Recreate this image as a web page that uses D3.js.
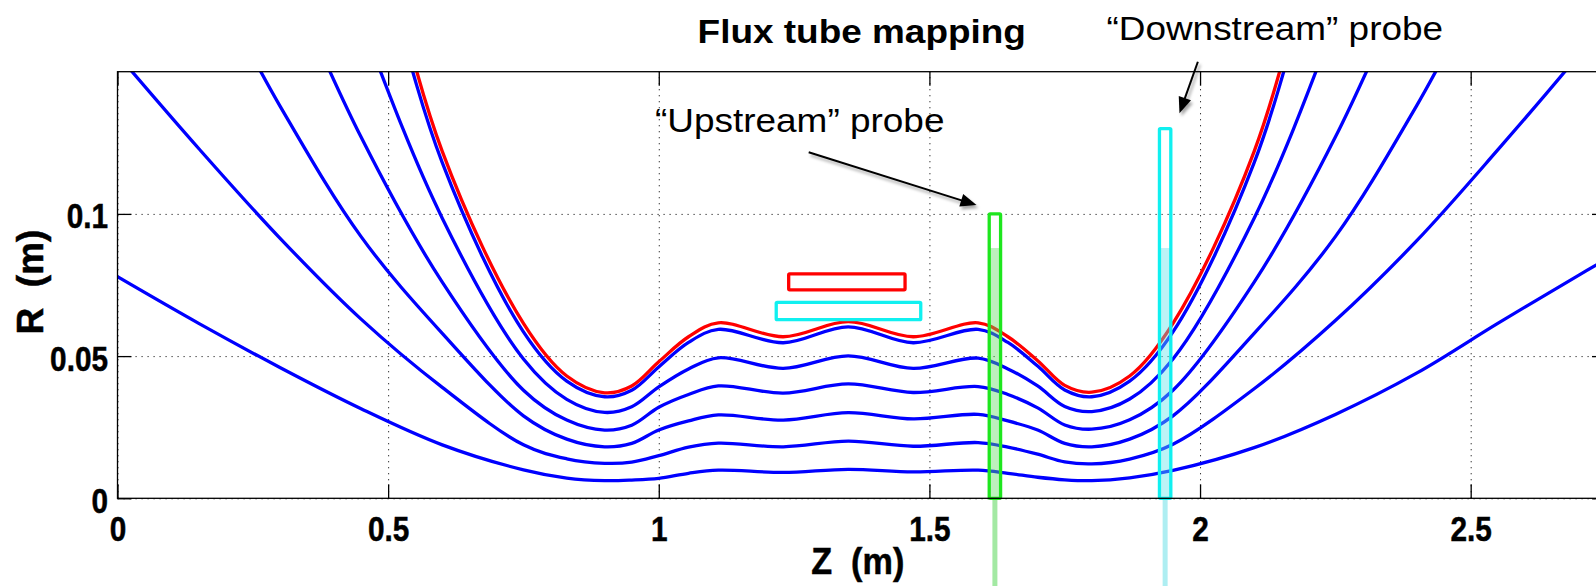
<!DOCTYPE html>
<html>
<head>
<meta charset="utf-8">
<script src="https://cdnjs.cloudflare.com/ajax/libs/d3/7.8.5/d3.min.js"></script>
<style>
  body { margin: 0; background: #fff; overflow: hidden; }
  svg { display: block; }
  text { font-family: "Liberation Sans", Arial, Helvetica, sans-serif; }
</style>
</head>
<body>
<script>
var zPoints = [0, 0.15, 0.3, 0.45, 0.6, 0.75, 0.83, 0.9, 0.95, 1.0, 1.055, 1.11, 1.23, 1.35,
               1.47, 1.59, 1.645, 1.7, 1.75, 1.8, 1.87, 1.95, 2.1, 2.25, 2.4, 2.55, 2.7, 2.75];

// R (m) of each blue field line, innermost first (values above 0.15 leave the box)
var line1R = [0.0779, 0.0615, 0.0460, 0.0315, 0.0188, 0.0100, 0.0071, 0.0062, 0.0064, 0.0070, 0.0088, 0.0099, 0.0091, 0.0102,
              0.0093, 0.0099, 0.0088, 0.0074, 0.0065, 0.0062, 0.0072, 0.0098, 0.0178, 0.0295, 0.0440, 0.0615, 0.0785, 0.0840];
var line2R = [0.156, 0.123, 0.0915, 0.0630, 0.0390, 0.0188, 0.0139, 0.0123, 0.0127, 0.0150, 0.0180, 0.0194, 0.0181, 0.0201,
              0.0183, 0.0196, 0.0180, 0.0155, 0.0128, 0.0121, 0.0138, 0.0190, 0.0385, 0.0625, 0.0905, 0.1225, 0.156, 0.168];
var line3R = [0.234, 0.190, 0.138, 0.092, 0.058, 0.0290, 0.0208, 0.0181, 0.0193, 0.0240, 0.0272, 0.0293, 0.0275, 0.0301,
              0.0279, 0.0295, 0.0272, 0.0240, 0.0193, 0.0181, 0.0208, 0.0290, 0.058, 0.092, 0.138, 0.190, 0.234, 0.250];
var line4R = [0.31, 0.26, 0.19, 0.127, 0.076, 0.038, 0.0275, 0.0240, 0.0257, 0.0320, 0.0365, 0.0395, 0.0370, 0.0402,
              0.0372, 0.0393, 0.0365, 0.0318, 0.0258, 0.0243, 0.0276, 0.038, 0.076, 0.127, 0.19, 0.26, 0.31, 0.33];
var line5R = [0.39, 0.33, 0.25, 0.168, 0.0985, 0.0490, 0.0348, 0.0302, 0.0322, 0.0392, 0.0455, 0.0494, 0.0457, 0.0501,
              0.0457, 0.0493, 0.0455, 0.0395, 0.0323, 0.0305, 0.0349, 0.0490, 0.0985, 0.168, 0.25, 0.33, 0.39, 0.41];
var line6R = [0.47, 0.39, 0.30, 0.215, 0.118, 0.0585, 0.0412, 0.0357, 0.0380, 0.0462, 0.0548, 0.0594, 0.0547, 0.0603,
              0.0547, 0.0594, 0.0548, 0.0465, 0.0381, 0.0357, 0.0412, 0.0585, 0.118, 0.215, 0.30, 0.39, 0.47, 0.49];
// the red (limiting) field line
var redLineR = [0.48, 0.40, 0.31, 0.223, 0.122, 0.0615, 0.0430, 0.0371, 0.0395, 0.0480, 0.0568, 0.0617, 0.0568, 0.0621,
                0.0568, 0.0617, 0.0568, 0.0484, 0.0397, 0.0373, 0.0430, 0.0615, 0.122, 0.223, 0.31, 0.40, 0.48, 0.50];

// outlines drawn on top: [zMin, zMax] and [rMin, rMax]
var redBoxZ = [1.240, 1.455], redBoxR = [0.0733, 0.0789];
var cyanBoxZ = [1.217, 1.484], cyanBoxR = [0.0628, 0.0689];
var upProbeZ = [1.6105, 1.6315], upProbeR = [0, 0.100];
var downProbeZ = [1.925, 1.946], downProbeR = [0, 0.130];
var probeFillTop = 0.088;     // R where the shaded part of each probe begins
var probeShaftEnd = -0.04;    // shaft keeps going below the axis

// annotations: [Z, R] in data units
var upText = [0.993, 0.1289], upArrow = [[1.277, 0.1217], [1.587, 0.1031]];
var downText = [1.827, 0.1611], downArrow = [[1.996, 0.1535], [1.962, 0.1354]];

// ticks
var xTicks = [0, 0.5, 1, 1.5, 2, 2.5];
var xTickLabels = ["0", "0.5", "1", "1.5", "2", "2.5"];
var yTicks = [0, 0.05, 0.1];
var yTickLabels = ["0", "0.05", "0.1"];

var W = 1596, H = 586;
var wide = 1.12;      // title and notes are a bit wider than the font
var narrow = 0.85;    // tick labels are tall and narrow

var x = d3.scaleLinear().domain([0, 2.75]).range([117.5, 1606]);
var y = d3.scaleLinear().domain([0, 0.15]).range([498.3, 71.7]);
var plotW = x.range()[1] - x.range()[0];
var plotH = y.range()[0] - y.range()[1];

var svg = d3.select("body").append("svg")
    .attr("width", W)
    .attr("height", H);

var defs = svg.append("defs");
defs.append("clipPath").attr("id", "plotClip")
  .append("rect")
    .attr("x", x.range()[0]).attr("y", y.range()[1])
    .attr("width", plotW).attr("height", plotH);
defs.append("filter").attr("id", "shadow")
    .attr("x", "-30%").attr("y", "-30%").attr("width", "160%").attr("height", "160%")
  .append("feDropShadow")
    .attr("dx", 2).attr("dy", 3).attr("stdDeviation", 1.8)
    .attr("flood-color", "#000").attr("flood-opacity", 0.35);

// Dotted grid, drawn with the axes generators
var gridX = svg.append("g")
    .attr("transform", "translate(0," + y(0) + ")")
    .call(d3.axisBottom(x).tickValues(xTicks).tickSize(-plotH).tickFormat(""));
var gridY = svg.append("g")
    .attr("transform", "translate(" + x(0) + ",0)")
    .call(d3.axisLeft(y).tickValues(yTicks).tickSize(-plotW).tickFormat(""));
[gridX, gridY].forEach(function(g){
    g.select(".domain").remove();
    g.selectAll("line")
        .attr("stroke", "#222")
        .attr("stroke-width", 1)
        .attr("stroke-dasharray", "1.2,4.8");
});

// Field lines
var lines = [line1R, line2R, line3R, line4R, line5R, line6R];
var lineGen = d3.line()
    .x(function(d, i){ return x(zPoints[i]); })
    .y(function(d){ return y(d); })
    .curve(d3.curveCatmullRom.alpha(0.5));

var curves = svg.append("g").attr("clip-path", "url(#plotClip)");
curves.selectAll("path.blue")
    .data(lines)
  .enter().append("path")
    .attr("class", "blue")
    .attr("d", lineGen)
    .attr("fill", "none")
    .attr("stroke", "#0000ff")
    .attr("stroke-width", 3.3)
    .attr("stroke-linejoin", "round");
curves.append("path")
    .attr("d", lineGen(redLineR))
    .attr("fill", "none")
    .attr("stroke", "#ff0000")
    .attr("stroke-width", 3.3)
    .attr("stroke-linejoin", "round");

// Horizontal boxes above the lines
function box(zr, rr, color){
    svg.append("rect")
        .attr("x", x(zr[0])).attr("y", y(rr[1]))
        .attr("width", x(zr[1]) - x(zr[0]))
        .attr("height", y(rr[0]) - y(rr[1]))
        .attr("fill", "none")
        .attr("stroke", color)
        .attr("stroke-width", 3.3)
        .attr("rx", 1);
}
box(redBoxZ, redBoxR, "#ff0000");
box(cyanBoxZ, cyanBoxR, "#10f0f0");

// Probes: shaded lower part, outline and shaft below the axis
function probe(zr, rr, edge, shade, shaft){
    var cx = (x(zr[0]) + x(zr[1])) / 2;
    svg.append("line")
        .attr("x1", cx).attr("x2", cx)
        .attr("y1", y(0)).attr("y2", y(probeShaftEnd))
        .attr("stroke", shaft)
        .attr("stroke-width", 5);
    svg.append("rect")
        .attr("x", x(zr[0])).attr("y", y(probeFillTop))
        .attr("width", x(zr[1]) - x(zr[0]))
        .attr("height", y(rr[0]) - y(probeFillTop))
        .attr("fill", shade)
        .attr("fill-opacity", 0.42);
    svg.append("rect")
        .attr("x", x(zr[0])).attr("y", y(rr[1]))
        .attr("width", x(zr[1]) - x(zr[0]))
        .attr("height", y(rr[0]) - y(rr[1]))
        .attr("fill", "none")
        .attr("stroke", edge)
        .attr("stroke-width", 3.3)
        .attr("rx", 1);
}
probe(upProbeZ, upProbeR, "#1ee61e", "#5fdc5f", "#a3e9a3");
probe(downProbeZ, downProbeR, "#10f0f0", "#5fe2ea", "#aeeef2");

// Axis box and inward ticks on all four sides
svg.append("rect")
    .attr("x", x.range()[0]).attr("y", y.range()[1])
    .attr("width", plotW).attr("height", plotH)
    .attr("fill", "none")
    .attr("stroke", "#000")
    .attr("stroke-width", 1.3);

var xAxis = svg.append("g")
    .attr("transform", "translate(0," + y(0) + ")")
    .call(d3.axisBottom(x).tickValues(xTicks).tickSize(-14).tickSizeOuter(0)
        .tickFormat(function(d, i){ return xTickLabels[i]; }));
var yAxis = svg.append("g")
    .attr("transform", "translate(" + x(0) + ",0)")
    .call(d3.axisLeft(y).tickValues(yTicks).tickSize(-14).tickSizeOuter(0)
        .tickFormat(function(d, i){ return yTickLabels[i]; }));
var topAxis = svg.append("g")
    .attr("transform", "translate(0," + y.range()[1] + ")")
    .call(d3.axisTop(x).tickValues(xTicks).tickSize(-14).tickSizeOuter(0).tickFormat(""));
var rightAxis = svg.append("g")
    .attr("transform", "translate(" + x.range()[1] + ",0)")
    .call(d3.axisRight(y).tickValues(yTicks).tickSize(-14).tickSizeOuter(0).tickFormat(""));

[xAxis, yAxis, topAxis, rightAxis].forEach(function(g){
    g.select(".domain").remove();
    g.selectAll("line").attr("stroke", "#000").attr("stroke-width", 1.3);
});

function boldLabel(sel, size){
    sel.attr("fill", "#000")
        .attr("stroke", "#000")
        .attr("stroke-width", 0.5)
        .style("font-size", size + "px")
        .style("font-weight", "bold");
}

xAxis.selectAll("text")
    .attr("y", 43).attr("dy", null)
    .attr("transform", "scale(" + narrow + ",1)")
    .call(boldLabel, 35);
yAxis.selectAll("text")
    .attr("x", -9.5 / narrow).attr("y", 14).attr("dy", null)
    .attr("transform", "scale(" + narrow + ",1)")
    .call(boldLabel, 35);

// Title and axis labels
var midX = (x.range()[0] + x.range()[1]) / 2;
svg.append("text")
    .attr("transform", "translate(" + midX + ",43) scale(" + wide + ",1)")
    .attr("text-anchor", "middle")
    .style("font-size", "33px").style("font-weight", "bold")
    .text("Flux tube mapping");
svg.append("text")
    .attr("transform", "translate(" + (midX - 4) + ",574) scale(0.95,1)")
    .attr("text-anchor", "middle")
    .style("white-space", "pre")
    .call(boldLabel, 36)
    .text("Z  (m)");
svg.append("text")
    .attr("transform", "translate(42.7,282) rotate(-90)")
    .attr("text-anchor", "middle")
    .style("white-space", "pre")
    .call(boldLabel, 37)
    .text("R  (m)");

// Probe annotations
function note(pos, str){
    svg.append("text")
        .attr("transform", "translate(" + x(pos[0]) + "," + y(pos[1]) + ") scale(" + wide + ",1)")
        .style("font-size", "33px")
        .text(str);
}
note(upText, "\u201cUpstream\u201d probe");
note(downText, "\u201cDownstream\u201d probe");

function arrow(pts){
    var x0 = x(pts[0][0]), y0 = y(pts[0][1]);
    var x1 = x(pts[1][0]), y1 = y(pts[1][1]);
    var len = Math.sqrt((x1 - x0) * (x1 - x0) + (y1 - y0) * (y1 - y0));
    var ux = (x1 - x0) / len, uy = (y1 - y0) / len;
    var headL = 16, headW = 6.5;
    var bx = x1 - ux * headL, by = y1 - uy * headL;
    var g = svg.append("g").attr("filter", "url(#shadow)");
    g.append("line")
        .attr("x1", x0).attr("y1", y0)
        .attr("x2", bx + ux * 2).attr("y2", by + uy * 2)
        .attr("stroke", "#000")
        .attr("stroke-width", 2);
    g.append("path")
        .attr("d", "M" + x1 + "," + y1 +
                   "L" + (bx - uy * headW) + "," + (by + ux * headW) +
                   "L" + (bx + uy * headW) + "," + (by - ux * headW) + "Z")
        .attr("fill", "#000");
}
arrow(upArrow);
arrow(downArrow);
</script>
</body>
</html>
